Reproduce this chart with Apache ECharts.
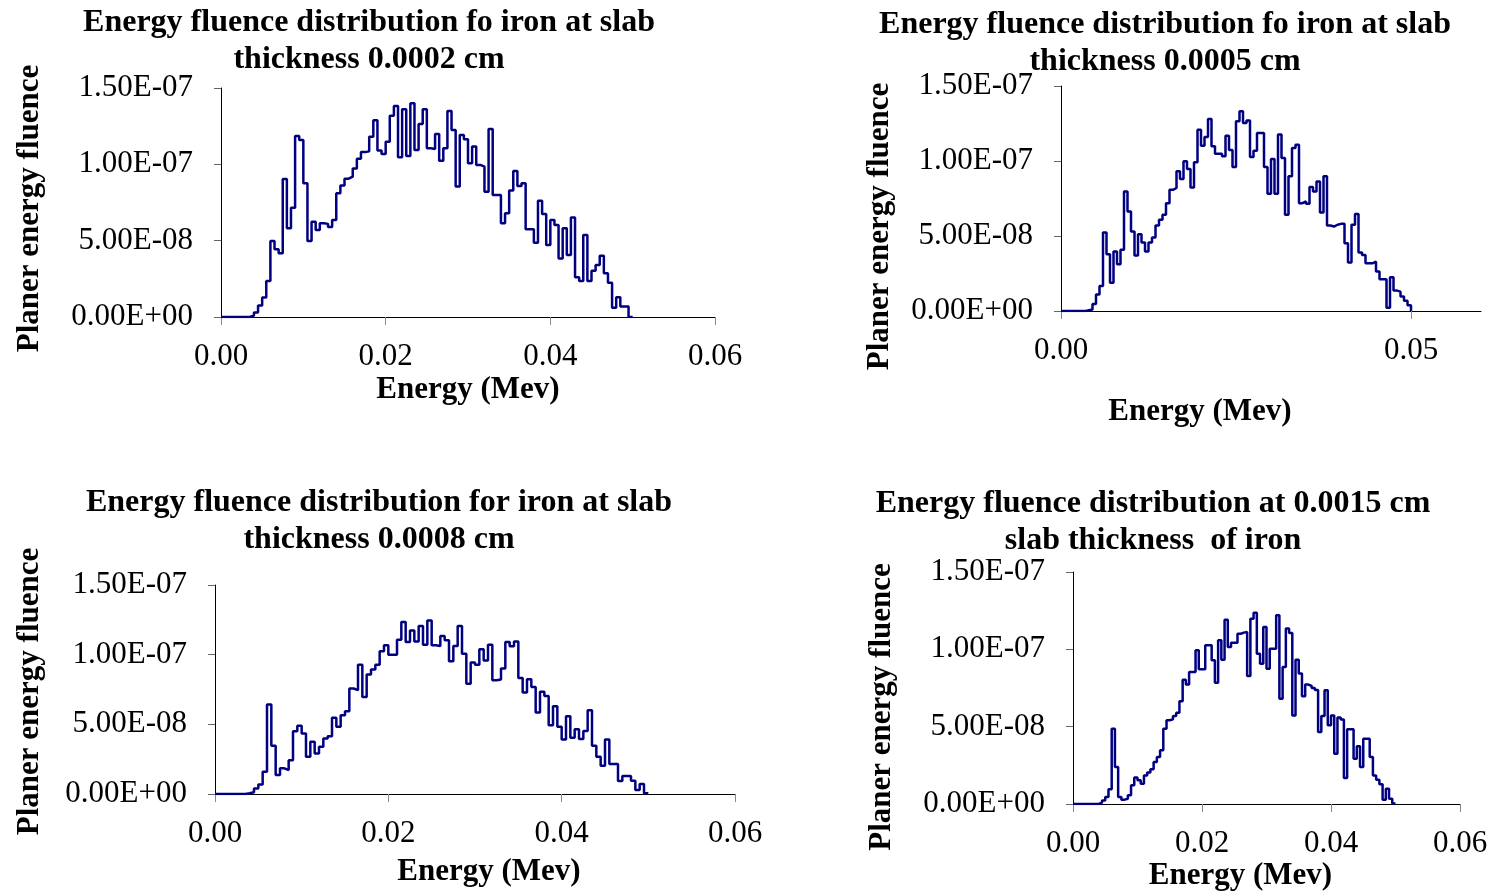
<!DOCTYPE html>
<html>
<head>
<meta charset="utf-8">
<script src="https://cdn.jsdelivr.net/npm/echarts@6/dist/echarts.min.js"></script>
<style>
  html, body { margin: 0; padding: 0; background: #fff; }
  #main { width: 1492px; height: 894px; }
</style>
</head>
<body>
<div id="main"></div>
<script>
// bin edges (MeV), shared by the four histograms
var binEdges = [
  0.0000, 0.0005, 0.0010, 0.0015, 0.0020, 0.0025, 0.0030, 0.0035, 0.0040, 0.0045,
  0.0050, 0.0055, 0.0060, 0.0065, 0.0070, 0.0075, 0.0080, 0.0085, 0.0090, 0.0095,
  0.0100, 0.0105, 0.0110, 0.0115, 0.0120, 0.0125, 0.0130, 0.0135, 0.0140, 0.0145,
  0.0150, 0.0155, 0.0160, 0.0165, 0.0170, 0.0175, 0.0180, 0.0185, 0.0190, 0.0195,
  0.0200, 0.0205, 0.0210, 0.0215, 0.0220, 0.0225, 0.0230, 0.0235, 0.0240, 0.0245,
  0.0250, 0.0255, 0.0260, 0.0265, 0.0270, 0.0275, 0.0280, 0.0285, 0.0290, 0.0295,
  0.0300, 0.0305, 0.0310, 0.0315, 0.0320, 0.0325, 0.0330, 0.0335, 0.0340, 0.0345,
  0.0350, 0.0355, 0.0360, 0.0365, 0.0370, 0.0375, 0.0380, 0.0385, 0.0390, 0.0395,
  0.0400, 0.0405, 0.0410, 0.0415, 0.0420, 0.0425, 0.0430, 0.0435, 0.0440, 0.0445,
  0.0450, 0.0455, 0.0460, 0.0465, 0.0470, 0.0475, 0.0480, 0.0485, 0.0490, 0.0495,
  0.0500
];

// fluence per bin, in units of 1E-08
var fluence0002 = [
  0, 0, 0, 0, 0, 0, 0, 0.1, 0.3, 0.76,
  1.27, 2.36, 4.98, 4.43, 4.17, 9.04, 5.81, 7.16, 11.86, 11.6,
  8.76, 4.98, 6.24, 5.7, 6.14, 6.1, 5.9, 6.35, 8.1, 8.62,
  9.06, 9.19, 9.72, 10.37, 10.8, 10.85, 11.8, 12.88, 10.9, 10.68,
  11.48, 13.19, 13.82, 10.46, 13.6, 10.55, 14.0, 10.94, 12.64, 13.6,
  11.05, 11.0, 11.99, 10.24, 11.05, 13.49, 12.25, 8.54, 11.92, 11.64,
  10.07, 11.16, 9.96, 9.85, 8.21, 12.31, 7.99, 7.99, 6.14, 6.79,
  8.28, 9.56, 8.58, 8.76, 5.74, 5.74, 4.87, 7.62, 6.75, 4.72,
  6.35, 6.03, 3.84, 5.81, 4.06, 6.51, 2.6, 2.36, 5.37, 2.36,
  3.03, 3.41, 4.02, 2.86, 2.25, 0.61, 1.29, 0.68, 0.68, 0
];
var fluence0005 = [
  0, 0, 0, 0, 0, 0, 0, 0.05, 0.1, 0.47,
  1.1, 1.67, 5.23, 3.79, 1.89, 3.96, 3.12, 4.08, 7.97, 6.64,
  5.3, 3.7, 5.12, 4.57, 3.96, 4.57, 4.9, 5.7, 6.08, 6.41,
  7.19, 8.08, 8.2, 9.31, 8.8, 9.98, 9.47, 8.24, 9.91, 12.09,
  11.02, 11.6, 12.8, 10.98, 10.49, 10.49, 10.31, 11.69, 10.74, 9.6,
  12.65, 13.32, 12.54, 12.7, 10.27, 10.69, 11.87, 11.87, 9.6, 7.82,
  10.13, 7.82, 11.76, 10.2, 6.41, 8.98, 10.87, 11.09, 7.19, 7.3,
  7.15, 8.26, 7.97, 8.64, 6.57, 8.98, 5.7, 5.63, 5.75, 5.81,
  5.81, 4.52, 3.23, 5.75, 6.46, 3.9, 3.74, 3.18, 3.18, 3.3,
  2.63, 2.12, 2.12, 0.22, 2.25, 1.36, 1.29, 0.96, 0.69, 0.38
];
var fluence0008 = [
  0, 0, 0, 0, 0, 0, 0, 0.05, 0.12, 0.4,
  0.69, 1.6, 6.42, 3.46, 1.36, 1.84, 1.72, 2.43, 4.51, 4.89,
  4.34, 2.67, 3.75, 2.91, 3.39, 3.99, 4.15, 5.47, 4.82, 5.66,
  5.94, 7.57, 7.45, 9.28, 6.97, 8.57, 8.93, 9.28, 10.24, 10.67,
  10.0, 10.0, 11.07, 12.34, 10.91, 11.74, 10.95, 12.05, 10.72, 12.46,
  10.67, 10.62, 11.34, 11.03, 9.52, 10.62, 12.05, 10.07, 7.92, 9.43,
  9.28, 10.38, 9.59, 10.72, 8.16, 8.21, 9.0, 10.91, 10.6, 10.95,
  8.33, 7.28, 8.23, 7.68, 5.85, 7.33, 7.04, 4.94, 6.3, 4.82,
  3.91, 5.58, 4.03, 4.65, 3.94, 4.53, 6.01, 3.46, 2.67, 2.03,
  3.91, 2.15, 2.15, 0.93, 1.29, 1.29, 0.95, 0.29, 0.72, 0.05
];
var fluence0015 = [
  0, 0, 0, 0, 0, 0, 0, 0, 0.09, 0.22,
  0.45, 0.95, 4.87, 2.39, 0.45, 0.28, 0.34, 0.56, 1.21, 1.72,
  1.53, 1.31, 1.85, 2.03, 2.24, 2.72, 3.04, 3.47, 4.87, 5.41,
  5.47, 5.69, 5.9, 6.64, 8.04, 7.72, 8.53, 8.53, 9.94, 8.71,
  8.71, 10.26, 10.26, 9.29, 7.84, 10.58, 9.33, 11.92, 10.15, 10.43,
  10.43, 11.01, 11.08, 11.12, 8.28, 11.98, 12.37, 9.72, 9.07, 11.44,
  8.75, 10.04, 10.04, 12.2, 6.81, 8.86, 11.34, 11.06, 5.73, 9.33,
  8.43, 6.96, 7.72, 7.63, 7.5, 7.37, 4.66, 5.69, 7.35, 5.09,
  5.73, 3.25, 5.6, 5.47, 1.68, 4.83, 4.83, 2.93, 3.73, 2.39,
  4.22, 4.22, 3.04, 1.85, 1.57, 1.27, 0.28, 0.99, 0.34, 0.04
];
var FLUENCE_UNIT = 1e-8;

var titles = [
  "Energy fluence distribution fo iron at slab\nthickness 0.0002 cm",
  "Energy fluence distribution fo iron at slab\nthickness 0.0005 cm",
  "Energy fluence distribution for iron at slab\nthickness 0.0008 cm",
  "Energy fluence distribution at 0.0015 cm\nslab thickness  of iron"
];
var xTicksWide = [0, 0.02, 0.04, 0.06];
var xTicksNarrow = [0, 0.05];
var yTicks = [0, 5e-8, 1e-7, 1.5e-7];
var yTickLabels = ["0.00E+00", "5.00E-08", "1.00E-07", "1.50E-07"];
var xName = "Energy (Mev)";
var yName = "Planer energy fluence";

var FONT = "Liberation Serif";

// one panel per histogram: plot box in pixels + label placement tweaks
var panels = [
  { values: fluence0002, xTicks: xTicksWide, title: titles[0], titleX: 364, titleY: -1,
    box: { left: 221, top: 88, width: 494, height: 229 },
    xGap: 57, xShift: 0, yGap: 176, yShift: 6 },
  { values: fluence0005, xTicks: xTicksNarrow, title: titles[1], titleX: 1160, titleY: 1,
    box: { left: 1061, top: 86, width: 420, height: 225 },
    xGap: 85, xShift: -71, yGap: 166, yShift: 28 },
  { values: fluence0008, xTicks: xTicksWide, title: titles[2], titleX: 374, titleY: 479,
    box: { left: 215, top: 585, width: 520, height: 209 },
    xGap: 62, xShift: 14, yGap: 170, yShift: 2 },
  { values: fluence0015, xTicks: xTicksWide, title: titles[3], titleX: 1148, titleY: 480,
    box: { left: 1073, top: 572, width: 387, height: 232 },
    xGap: 56, xShift: -26, yGap: 176, yShift: 19 }
];

function stepData(values) {
  // point at each bin's left edge, closing point back at zero
  return binEdges.map(function (x, i) {
    return [x, i < values.length ? values[i] * FLUENCE_UNIT : 0];
  });
}

var option = {
  backgroundColor: "#ffffff",
  animation: false,
  title: [],
  grid: [],
  xAxis: [],
  yAxis: [],
  series: []
};

panels.forEach(function (p, i) {
  option.title.push({
    text: p.title,
    left: p.titleX,
    top: p.titleY,
    textAlign: "center",
    textStyle: {
      fontFamily: FONT, fontSize: 32, fontWeight: "bold", color: "#000", lineHeight: 37
    }
  });
  option.grid.push({
    left: p.box.left, top: p.box.top, width: p.box.width, height: p.box.height,
    containLabel: false
  });
  option.xAxis.push({
    type: "value",
    gridIndex: i,
    min: 0,
    max: 0.06,
    name: xName,
    nameLocation: "middle",
    nameGap: p.xGap,
    nameTextStyle: {
      fontFamily: FONT, fontSize: 31, fontWeight: "bold", color: "#000",
      padding: p.xShift >= 0 ? [0, 0, 0, 2 * p.xShift] : [0, -2 * p.xShift, 0, 0]
    },
    axisLine: { lineStyle: { color: "#000", width: 1 } },
    axisTick: { customValues: p.xTicks, length: 8, lineStyle: { color: "#888" } },
    axisLabel: {
      customValues: p.xTicks,
      margin: 24,
      fontFamily: FONT, fontSize: 31, color: "#000",
      formatter: function (v) { return v.toFixed(2); }
    },
    splitLine: { show: false }
  });
  option.yAxis.push({
    type: "value",
    gridIndex: i,
    min: 0,
    max: 1.5e-7,
    name: yName,
    nameLocation: "middle",
    nameRotate: 90,
    nameGap: p.yGap,
    nameTextStyle: {
      fontFamily: FONT, fontSize: 31, fontWeight: "bold", color: "#000",
      padding: [0, 2 * p.yShift, 0, 0]
    },
    axisLine: { show: true, lineStyle: { color: "#000", width: 1 } },
    axisTick: { show: true, customValues: yTicks, length: 7, lineStyle: { color: "#666" } },
    axisLabel: {
      customValues: yTicks,
      margin: 28,
      fontFamily: FONT, fontSize: 31, color: "#000",
      formatter: function (v) { return yTickLabels[Math.round(v / 5e-8)]; }
    },
    splitLine: { show: false }
  });
  option.series.push({
    type: "line",
    xAxisIndex: i,
    yAxisIndex: i,
    step: "end",
    showSymbol: false,
    lineStyle: { color: "#000080", width: 2.5 },
    data: stepData(p.values)
  });
});

var myChart = echarts.init(document.getElementById("main"), null, { renderer: "canvas" });
myChart.setOption(option);
</script>
</body>
</html>
